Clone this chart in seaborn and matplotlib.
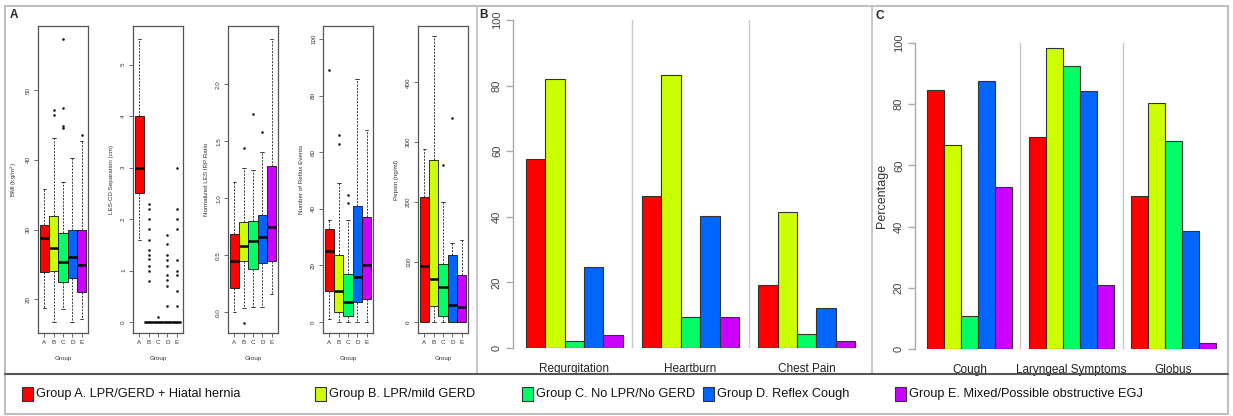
import numpy as np
import pandas as pd
import matplotlib
matplotlib.use("Agg")
import matplotlib.pyplot as plt
import seaborn as sns
from matplotlib.patches import Rectangle
from matplotlib.lines import Line2D

sns.set_theme(style="ticks")
plt.rcParams["font.family"] = ["Liberation Sans", "DejaVu Sans"]

W, H = 1233, 416

groups = ["A", "B", "C", "D", "E"]
group_names = [
    "Group A. LPR/GERD + Hiatal hernia",
    "Group B. LPR/mild GERD",
    "Group C. No LPR/No GERD",
    "Group D. Reflex Cough",
    "Group E. Mixed/Possible obstructive EGJ",
]
colors = ["#FF0000", "#CCFF00", "#00FF66", "#0066FF", "#CC00FF"]

# panel A - box summaries per group: (lower whisker, q1, median, q3, upper whisker)
bmi_stats = [(18.8, 23.9, 28.8, 30.6, 35.8), (16.7, 24.1, 27.3, 32.0, 43.2),
             (18.6, 22.5, 25.4, 29.5, 36.8), (16.7, 23.0, 26.0, 30.0, 40.3),
             (17.2, 21.1, 24.9, 30.0, 42.7)]
bmi_fliers = [[], [46.4, 47.1], [44.5, 44.9, 47.5, 57.4], [], [43.5]]

lescd_stats = [(1.6, 2.5, 3.0, 4.0, 5.5), (0, 0, 0, 0, 0), (0, 0, 0, 0, 0),
               (0, 0, 0, 0, 0), (0, 0, 0, 0, 0)]
lescd_fliers = [[], [0.8, 1.0, 1.1, 1.22, 1.31, 1.41, 1.6, 1.8, 2.0, 2.19, 2.3], [0.11],
                [0.31, 0.7, 0.81, 0.91, 1.1, 1.21, 1.3, 1.51, 1.7],
                [0.31, 0.6, 0.91, 1.0, 1.21, 1.8, 2.0, 2.2, 3.0]]

irp_stats = [(0.0, 0.21, 0.45, 0.69, 1.14), (0.04, 0.45, 0.58, 0.79, 1.27),
             (0.05, 0.38, 0.63, 0.80, 1.25), (0.05, 0.43, 0.66, 0.85, 1.41),
             (0.16, 0.45, 0.75, 1.28, 2.40)]
irp_fliers = [[], [-0.09, 1.44], [1.74], [1.58], []]

reflux_stats = [(1, 11, 25, 33, 36), (0, 3.5, 11, 23.5, 49), (0, 2, 7, 17, 36),
                (0, 7, 16, 41, 86), (0, 8, 20, 37, 68)]
reflux_fliers = [[89], [63, 66], [42, 45], [], []]

pepsin_stats = [(0, 0, 94, 208, 289), (0, 27, 71, 270, 478), (0, 10, 59, 96, 201),
                (0, 0, 29, 111, 132), (0, 0, 25, 78, 136)]
pepsin_fliers = [[], [], [262], [340], []]

# panel B / C - percentage of patients per symptom (groups A-E)
typical_labels = ["Regurgitation", "Heartburn", "Chest Pain"]
regurgitation = [57.7, 82.0, 2.2, 24.7, 3.9]
heartburn = [46.2, 83.1, 9.6, 40.3, 9.4]
chest_pain = [19.2, 41.6, 4.3, 12.3, 2.0]

atypical_labels = ["Cough", "Laryngeal Symptoms", "Globus"]
cough = [84.7, 66.6, 10.7, 87.7, 52.8]
laryngeal = [69.4, 98.5, 92.5, 84.2, 20.8]
globus = [50.0, 80.4, 68.0, 38.7, 2.0]

fig = plt.figure(figsize=(W / 100, H / 100), dpi=100)


def px_axes(x0, y0, x1, y1):
    return fig.add_axes([x0 / W, 1 - y1 / H, (x1 - x0) / W, (y1 - y0) / H])


def fig_line(x0, y0, x1, y1, color, lw):
    fig.add_artist(Line2D([x0 / W, x1 / W], [1 - y0 / H, 1 - y1 / H],
                          transform=fig.transFigure, color=color, lw=lw))


def box_panel(x0, stats, fliers, ylim, yticks, yticklabels, ylabel):
    ax = px_axes(x0, 26, x0 + 50, 333)
    bstats = [dict(whislo=s[0], q1=s[1], med=s[2], q3=s[3], whishi=s[4],
                   fliers=f, label=g) for s, f, g in zip(stats, fliers, groups)]
    parts = ax.bxp(bstats, positions=range(1, 6), widths=1.0, capwidths=0.4,
                   patch_artist=True, showfliers=True,
                   boxprops=dict(edgecolor="#111111", linewidth=0.6),
                   medianprops=dict(color="black", linewidth=1.8, solid_capstyle="butt"),
                   whiskerprops=dict(color="#222222", linewidth=0.6, linestyle=(0, (2.5, 1.5))),
                   capprops=dict(color="#222222", linewidth=0.6),
                   flierprops=dict(marker="o", markersize=0.9, markerfacecolor="#222222",
                                   markeredgecolor="#222222", linestyle="none"))
    for patch, c in zip(parts["boxes"], colors):
        patch.set_facecolor(c)
    ax.set_xlim(0.3, 5.7)
    ax.set_ylim(*ylim)
    ax.set_yticks(yticks)
    ax.set_yticklabels(yticklabels, rotation=90, va="center")
    ax.set_xticks(range(1, 6))
    ax.set_xticklabels(groups)
    ax.tick_params(axis="both", direction="out", length=3, width=0.5, labelsize=4.5,
                   colors="#333333", pad=2)
    for sp in ax.spines.values():
        sp.set_color("#555555")
        sp.set_linewidth(0.9)
    ax.set_xlabel("Group", fontsize=4.5, color="#333333", labelpad=8)
    ax.set_ylabel(ylabel, fontsize=4.5, color="#333333", labelpad=5)
    return ax


box_panel(38, bmi_stats, bmi_fliers, (15.17, 59.2), [20, 30, 40, 50],
          ["20", "30", "40", "50"], "BMI (kg/m$^2$)")
box_panel(133, lescd_stats, lescd_fliers, (-0.21, 5.75), [0, 1, 2, 3, 4, 5],
          ["0", "1", "2", "3", "4", "5"], "LES-CD Separation (cm)")
box_panel(228, irp_stats, irp_fliers, (-0.18, 2.51), [0, 0.5, 1.0, 1.5, 2.0],
          ["0.0", "0.5", "1.0", "1.5", "2.0"], "Normalized LES IRP Ratio")
box_panel(323, reflux_stats, reflux_fliers, (-3.9, 104.6), [0, 20, 40, 60, 80, 100],
          ["0", "20", "40", "60", "80", "100"], "Number of Reflux Events")
box_panel(418, pepsin_stats, pepsin_fliers, (-18.4, 494), [0, 100, 200, 300, 400],
          ["0", "100", "200", "300", "400"], "Pepsin (ng/ml)")


def bar_panel(x0, y0, x1, y1, labels, series, xlim, ylabel=None):
    ax = px_axes(x0, y0, x1, y1)
    df = pd.DataFrame({
        "symptom": np.repeat(labels, len(groups)),
        "group": groups * len(labels),
        "pct": [v for s in series for v in s],
    })
    sns.barplot(data=df, x="symptom", y="pct", hue="group", palette=colors,
                width=5 / 6, gap=0, errorbar=None, saturation=1,
                edgecolor="#333333", linewidth=0.8, legend=False, ax=ax)
    ax.set_xlim(*xlim)
    ax.set_ylim(0, 100)
    for xs in [0.5, 1.5]:
        ax.plot([xs, xs], [0, 100], color="#C8C8C8", lw=1.0, zorder=0)
    ax.plot([-0.4167, 2.4167], [0, 0], color="#999999", lw=0.8, zorder=0)
    for side in ["top", "right", "bottom"]:
        ax.spines[side].set_visible(False)
    ax.spines["left"].set_color("#AAAAAA")
    ax.spines["left"].set_linewidth(1.0)
    ax.spines["left"].set_bounds(0, 100)
    ax.set_yticks([0, 20, 40, 60, 80, 100])
    ax.set_yticklabels(["0", "20", "40", "60", "80", "100"], rotation=90, va="center")
    ax.tick_params(axis="y", direction="out", length=5, width=1.0, color="#AAAAAA",
                   labelsize=8, labelcolor="#444444", pad=3)
    ax.tick_params(axis="x", length=0, labelsize=8.5, labelcolor="#222222", pad=11)
    ax.set_xlabel("")
    ax.set_ylabel(ylabel if ylabel else "", fontsize=9, color="#333333", labelpad=4)
    return ax


bar_panel(513, 20, 868, 348, typical_labels, [regurgitation, heartburn, chest_pain],
          (-0.529, 2.529))
bar_panel(915, 43, 1228, 349, atypical_labels, [cough, laryngeal, globus],
          (-0.534, 2.534), ylabel="Percentage")

# panel frames
frame = "#C0C0C0"
fig_line(5, 6, 1228, 6, frame, 1.5)
fig_line(5, 6, 5, 414, frame, 1.5)
fig_line(1228, 6, 1228, 414, frame, 1.5)
fig_line(5, 414, 1228, 414, frame, 1.5)
fig_line(477, 6, 477, 374, frame, 1.2)
fig_line(872, 6, 872, 374, frame, 1.2)
fig_line(5, 374, 1228, 374, "#555555", 1.5)

fig.text(14 / W, 1 - 15 / H, "A", fontsize=8.5, fontweight="bold", ha="center", va="center")
fig.text(483 / W, 1 - 15.5 / H, "B", fontsize=8.5, fontweight="bold", ha="center", va="center")
fig.text(880 / W, 1 - 16 / H, "C", fontsize=8.5, fontweight="bold", ha="center", va="center")

# legend row
legend_x = [22, 315, 522, 703, 895]
for lx, name, c in zip(legend_x, group_names, colors):
    fig.add_artist(Rectangle((lx / W, 1 - 401 / H), 11 / W, 14 / H, transform=fig.transFigure,
                             facecolor=c, edgecolor="#333333", lw=0.8))
    fig.text((lx + 14) / W, 1 - 394 / H, name, fontsize=9.2, va="center", ha="left",
             color="#111111")

fig.savefig("out.png", dpi=100)
